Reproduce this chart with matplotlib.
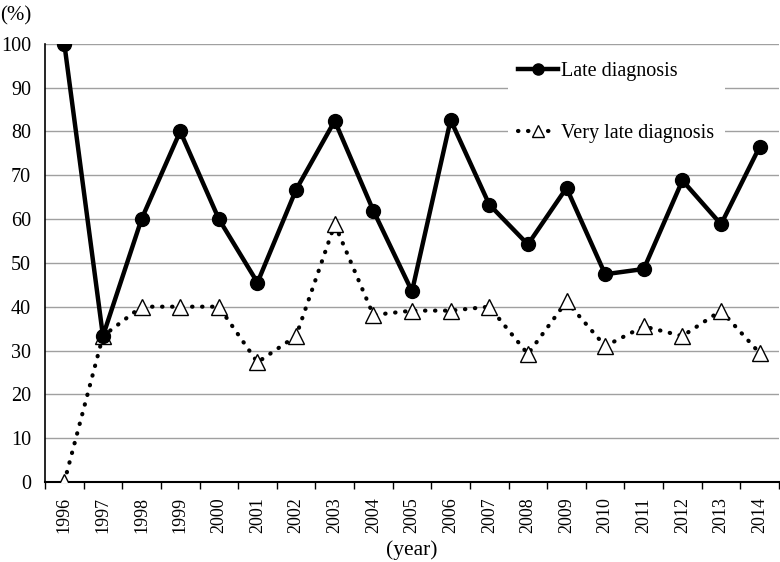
import numpy as np
import pandas as pd
import matplotlib
matplotlib.use('Agg')
import matplotlib.pyplot as plt

years = [str(y) for y in range(1996, 2015)]
late = [100, 33.3, 60, 80, 60, 45.5, 66.7, 82.4, 61.9, 43.5,
        82.6, 63.3, 54.2, 67.1, 47.4, 48.6, 68.8, 58.8, 76.5]
very_late = [0, 33.3, 40, 40, 40, 27.3, 33.3, 58.8, 38.1, 39.1,
             39.1, 40, 29.2, 41.2, 31.0, 35.5, 33.3, 39.1, 29.4]

plt.rcParams['font.family'] = ['Liberation Serif', 'DejaVu Serif']

fig = plt.figure(figsize=(7.8, 5.62), dpi=100)
ax = fig.add_axes([45 / 780, 1 - 482 / 562, 734 / 780, (482 - 43.7) / 562])

x = np.arange(len(years))
ax.plot(x, late, color='black', lw=3.2, marker='o', ms=10,
        label='Late diagnosis', zorder=4)
ax.plot(x, very_late, color='black', lw=3, linestyle=(0, (0.1, 2.3)),
        dash_capstyle='round', marker='^', ms=11, mfc='white', mec='black',
        mew=1, label='Very late diagnosis', zorder=3)

ax.set_ylim(0, 100)
ax.set_xlim(-0.5, len(years) - 0.5)
ax.set_yticks(range(0, 101, 10))
ax.yaxis.grid(True, color='#a0a0a0', lw=1)
ax.set_axisbelow(True)
ax.tick_params(axis='y', length=0, labelsize=14.5, pad=10)

ax.set_xticks(x)
ax.set_xticklabels(years, rotation=90, fontsize=13)
ax.set_xticks(np.arange(-0.5, len(years)), minor=True)
ax.tick_params(axis='x', which='major', length=0, pad=11)
ax.tick_params(axis='x', which='minor', length=5, width=1, direction='out')

for s in ['top', 'right']:
    ax.spines[s].set_visible(False)
ax.spines['left'].set_linewidth(1.2)
ax.spines['bottom'].set_linewidth(1.5)

fig.text(0.0, 1 - 16 / 562, '(%)', fontsize=15, va='center', ha='left')
fig.text(412 / 780, 1 - 550 / 562, '(year)', fontsize=15.5, va='center', ha='center')

leg = ax.legend(loc='upper left', bbox_to_anchor=(508 / 780, 1 - 52 / 562),
                bbox_transform=fig.transFigure, fontsize=14.5, frameon=True,
                fancybox=False, edgecolor='none', facecolor='white', framealpha=1,
                labelspacing=2.1, handlelength=2.0, handletextpad=0.15,
                borderpad=0.5, borderaxespad=0, markerscale=0.8)

fig.savefig('out.png', dpi=100)
